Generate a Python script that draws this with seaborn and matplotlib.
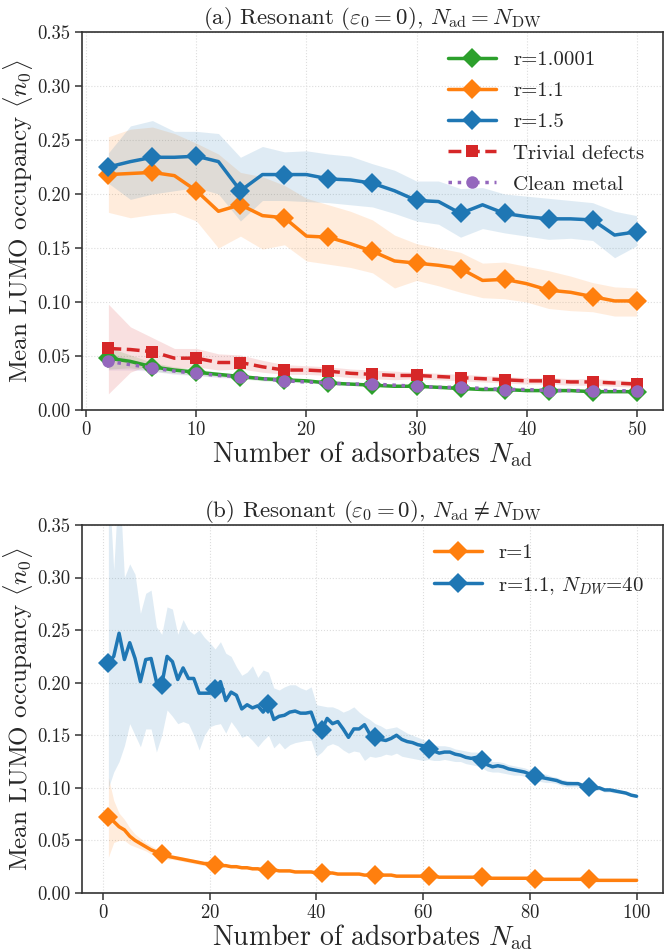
import pandas as pd
import seaborn as sns
import matplotlib.pyplot as plt

# ---- panel (a): N_ad = N_DW ----
n_top = list(range(2, 51, 2))

r15 = [0.225, 0.230, 0.234, 0.234, 0.235, 0.230, 0.203, 0.218, 0.218, 0.218, 0.214, 0.213, 0.210,
       0.203, 0.194, 0.193, 0.182, 0.190, 0.182, 0.179, 0.177, 0.177, 0.176, 0.162, 0.165]
r15_hi = [0.238, 0.263, 0.268, 0.258, 0.258, 0.256, 0.234, 0.244, 0.239, 0.240, 0.237, 0.235, 0.228,
          0.222, 0.212, 0.212, 0.205, 0.206, 0.200, 0.198, 0.196, 0.194, 0.192, 0.184, 0.180]
r15_lo = [0.210, 0.195, 0.200, 0.203, 0.206, 0.200, 0.175, 0.194, 0.194, 0.193, 0.192, 0.190, 0.188,
          0.182, 0.175, 0.172, 0.160, 0.168, 0.164, 0.161, 0.158, 0.159, 0.157, 0.141, 0.152]

r11 = [0.218, 0.219, 0.220, 0.217, 0.203, 0.184, 0.190, 0.180, 0.178, 0.161, 0.160, 0.154, 0.147,
       0.138, 0.136, 0.134, 0.131, 0.120, 0.121, 0.117, 0.111, 0.109, 0.105, 0.101, 0.101]
r11_hi = [0.253, 0.260, 0.262, 0.256, 0.247, 0.237, 0.220, 0.216, 0.208, 0.196, 0.190, 0.184, 0.176,
          0.162, 0.154, 0.150, 0.146, 0.136, 0.137, 0.133, 0.129, 0.124, 0.118, 0.114, 0.113]
r11_lo = [0.183, 0.178, 0.181, 0.183, 0.175, 0.150, 0.161, 0.149, 0.153, 0.138, 0.135, 0.132, 0.127,
          0.113, 0.120, 0.115, 0.109, 0.104, 0.103, 0.100, 0.094, 0.092, 0.091, 0.087, 0.087]

trivial = [0.057, 0.056, 0.054, 0.048, 0.048, 0.044, 0.044, 0.040, 0.037, 0.037, 0.036, 0.034, 0.033,
           0.032, 0.032, 0.031, 0.030, 0.029, 0.028, 0.027, 0.027, 0.026, 0.026, 0.025, 0.024]
trivial_hi = [0.098, 0.077, 0.067, 0.057, 0.057, 0.052, 0.051, 0.046, 0.042, 0.041, 0.040, 0.038, 0.037,
              0.036, 0.035, 0.034, 0.033, 0.032, 0.031, 0.030, 0.030, 0.029, 0.029, 0.028, 0.027]
trivial_lo = [0.015, 0.035, 0.043, 0.038, 0.040, 0.037, 0.038, 0.035, 0.033, 0.033, 0.032, 0.030, 0.029,
              0.028, 0.029, 0.028, 0.027, 0.026, 0.025, 0.024, 0.024, 0.023, 0.023, 0.022, 0.021]

r10001 = [0.048, 0.045, 0.040, 0.037, 0.035, 0.033, 0.031, 0.029, 0.028, 0.027, 0.025, 0.024, 0.023,
          0.022, 0.022, 0.021, 0.020, 0.019, 0.019, 0.018, 0.018, 0.018, 0.017, 0.017, 0.017]
r10001_sd = [0.010, 0.006, 0.004, 0.003, 0.003, 0.002, 0.002, 0.002, 0.002, 0.001, 0.001, 0.001, 0.001,
             0.001, 0.001, 0.001, 0.001, 0.001, 0.001, 0.001, 0.001, 0.001, 0.001, 0.001, 0.001]

clean = [0.045, 0.042, 0.039, 0.036, 0.034, 0.032, 0.031, 0.029, 0.027, 0.026, 0.025, 0.024, 0.024,
         0.023, 0.022, 0.021, 0.021, 0.020, 0.019, 0.019, 0.018, 0.018, 0.018, 0.018, 0.0175]
clean_sd = [0.008, 0.005, 0.003, 0.003, 0.002, 0.002, 0.002, 0.001, 0.001, 0.001, 0.001, 0.001, 0.001,
            0.001, 0.001, 0.001, 0.001, 0.001, 0.001, 0.001, 0.001, 0.001, 0.001, 0.001, 0.001]

# ---- panel (b): N_ad != N_DW ----
n_bot = list(range(1, 101))

r1 = [0.072, 0.068, 0.063, 0.060, 0.054, 0.050, 0.047, 0.044, 0.041, 0.039,
      0.037, 0.035, 0.034, 0.033, 0.032, 0.031, 0.030, 0.029, 0.028, 0.028,
      0.027, 0.026, 0.026, 0.025, 0.025, 0.024, 0.024, 0.023, 0.023, 0.022,
      0.022, 0.022, 0.021, 0.021, 0.021, 0.020, 0.020, 0.020, 0.020, 0.019,
      0.019, 0.019, 0.019, 0.018, 0.018, 0.018, 0.018, 0.018, 0.017, 0.017,
      0.017, 0.017, 0.017, 0.017, 0.016, 0.016, 0.016, 0.016, 0.016, 0.016,
      0.016, 0.016, 0.015, 0.015, 0.015, 0.015, 0.015, 0.015, 0.015, 0.015,
      0.015, 0.014, 0.014, 0.014, 0.014, 0.014, 0.014, 0.014, 0.014, 0.014,
      0.013, 0.013, 0.013, 0.013, 0.013, 0.013, 0.013, 0.013, 0.013, 0.013,
      0.013, 0.012, 0.012, 0.012, 0.012, 0.012, 0.012, 0.012, 0.012, 0.012]
r1_sd = [0.038, 0.020, 0.013, 0.010, 0.008, 0.006, 0.005, 0.004, 0.004, 0.003,
         0.003, 0.003, 0.002, 0.002, 0.002, 0.002, 0.002, 0.002, 0.002, 0.002,
         0.001, 0.001, 0.001, 0.001, 0.001, 0.001, 0.001, 0.001, 0.001, 0.001,
         0.001, 0.001, 0.001, 0.001, 0.001, 0.001, 0.001, 0.001, 0.001, 0.001,
         0.001, 0.001, 0.001, 0.001, 0.001, 0.001, 0.001, 0.001, 0.001, 0.001,
         0.001, 0.001, 0.001, 0.001, 0.001, 0.001, 0.001, 0.001, 0.001, 0.001,
         0.001, 0.001, 0.001, 0.001, 0.001, 0.001, 0.001, 0.001, 0.001, 0.001,
         0.001, 0.001, 0.001, 0.001, 0.001, 0.001, 0.001, 0.001, 0.001, 0.001,
         0.001, 0.001, 0.001, 0.001, 0.001, 0.001, 0.001, 0.001, 0.001, 0.001,
         0.001, 0.001, 0.001, 0.001, 0.001, 0.001, 0.001, 0.001, 0.001, 0.001]

r11_dw40 = [0.219, 0.225, 0.247, 0.222, 0.238, 0.223, 0.201, 0.222, 0.223, 0.201,
            0.198, 0.225, 0.220, 0.203, 0.214, 0.204, 0.204, 0.190, 0.190, 0.190,
            0.194, 0.201, 0.183, 0.191, 0.188, 0.175, 0.179, 0.176, 0.178, 0.172,
            0.180, 0.165, 0.168, 0.169, 0.172, 0.173, 0.171, 0.171, 0.172, 0.158,
            0.155, 0.166, 0.161, 0.163, 0.156, 0.148, 0.156, 0.156, 0.160, 0.151,
            0.148, 0.146, 0.145, 0.147, 0.150, 0.146, 0.144, 0.143, 0.141, 0.140,
            0.137, 0.135, 0.133, 0.134, 0.134, 0.132, 0.131, 0.129, 0.128, 0.129,
            0.126, 0.122, 0.120, 0.121, 0.120, 0.118, 0.117, 0.116, 0.115, 0.113,
            0.111, 0.110, 0.109, 0.108, 0.107, 0.105, 0.104, 0.104, 0.104, 0.102,
            0.101, 0.099, 0.100, 0.098, 0.098, 0.097, 0.096, 0.095, 0.093, 0.092]
r11_dw40_hi = [0.400, 0.307, 0.400, 0.300, 0.313, 0.303, 0.266, 0.285, 0.288, 0.253,
               0.246, 0.272, 0.270, 0.246, 0.260, 0.250, 0.246, 0.250, 0.243, 0.238,
               0.232, 0.239, 0.228, 0.225, 0.215, 0.207, 0.210, 0.216, 0.205, 0.212,
               0.210, 0.195, 0.193, 0.196, 0.198, 0.198, 0.195, 0.193, 0.196, 0.179,
               0.178, 0.177, 0.177, 0.175, 0.172, 0.174, 0.177, 0.172, 0.168, 0.165,
               0.161, 0.159, 0.156, 0.157, 0.158, 0.155, 0.152, 0.150, 0.148, 0.146,
               0.143, 0.141, 0.140, 0.140, 0.139, 0.137, 0.136, 0.135, 0.134, 0.134,
               0.133, 0.128, 0.125, 0.125, 0.124, 0.122, 0.121, 0.120, 0.119, 0.117,
               0.116, 0.114, 0.113, 0.111, 0.110, 0.108, 0.107, 0.106, 0.106, 0.104,
               0.103, 0.101, 0.101, 0.099, 0.099, 0.098, 0.097, 0.096, 0.094, 0.093]
r11_dw40_lo = [0.100, 0.115, 0.125, 0.140, 0.161, 0.150, 0.139, 0.156, 0.156, 0.134,
               0.150, 0.174, 0.168, 0.161, 0.163, 0.161, 0.150, 0.136, 0.150, 0.158,
               0.160, 0.161, 0.152, 0.163, 0.156, 0.148, 0.150, 0.145, 0.139, 0.145,
               0.150, 0.138, 0.143, 0.137, 0.141, 0.143, 0.144, 0.145, 0.145, 0.130,
               0.134, 0.140, 0.142, 0.140, 0.136, 0.133, 0.135, 0.134, 0.126, 0.130,
               0.129, 0.130, 0.132, 0.131, 0.133, 0.130, 0.129, 0.128, 0.127, 0.126,
               0.127, 0.126, 0.126, 0.127, 0.126, 0.125, 0.125, 0.123, 0.122, 0.121,
               0.119, 0.116, 0.115, 0.115, 0.114, 0.113, 0.112, 0.112, 0.111, 0.109,
               0.107, 0.106, 0.105, 0.105, 0.104, 0.102, 0.101, 0.101, 0.101, 0.100,
               0.099, 0.097, 0.098, 0.096, 0.096, 0.095, 0.095, 0.094, 0.092, 0.091]

C_BLUE, C_ORANGE, C_GREEN, C_RED, C_PURPLE = '#1f77b4', '#ff7f0e', '#2ca02c', '#d62728', '#9467bd'

sns.set_style('ticks')
plt.rcParams['font.family'] = 'serif'
plt.rcParams['font.serif'] = ['cmr10', 'DejaVu Serif']
plt.rcParams['mathtext.fontset'] = 'cm'
plt.rcParams['axes.formatter.use_mathtext'] = True
plt.rcParams['axes.unicode_minus'] = False

fig = plt.figure(figsize=(6.66, 9.52), dpi=100)
ax1 = fig.add_axes([0.1231, 0.5693, 0.8724, 0.3971])
ax2 = fig.add_axes([0.1231, 0.0620, 0.8724, 0.3866])

top = pd.DataFrame({'N': n_top, 'r10001': r10001, 'r11': r11, 'r15': r15,
                    'trivial': trivial, 'clean': clean})
bot = pd.DataFrame({'N': n_bot, 'r1': r1, 'r11': r11_dw40})

band_alpha = 0.14

# panel (a) shaded spread
ax1.fill_between(n_top, [a - b for a, b in zip(r10001, r10001_sd)],
                 [a + b for a, b in zip(r10001, r10001_sd)], color=C_GREEN, alpha=band_alpha, lw=0)
ax1.fill_between(n_top, r11_lo, r11_hi, color=C_ORANGE, alpha=band_alpha, lw=0)
ax1.fill_between(n_top, r15_lo, r15_hi, color=C_BLUE, alpha=band_alpha, lw=0)
ax1.fill_between(n_top, trivial_lo, trivial_hi, color=C_RED, alpha=band_alpha, lw=0)
ax1.fill_between(n_top, [a - b for a, b in zip(clean, clean_sd)],
                 [a + b for a, b in zip(clean, clean_sd)], color=C_PURPLE, alpha=band_alpha, lw=0)

line_kw = dict(lw=2.5, markeredgewidth=0, errorbar=None)
sns.lineplot(data=top, x='N', y='r10001', ax=ax1, color=C_GREEN, marker='D', markersize=10,
             markevery=2, label='r=1.0001', **line_kw)
sns.lineplot(data=top, x='N', y='r11', ax=ax1, color=C_ORANGE, marker='D', markersize=10,
             markevery=2, label='r=1.1', **line_kw)
sns.lineplot(data=top, x='N', y='r15', ax=ax1, color=C_BLUE, marker='D', markersize=10,
             markevery=2, label='r=1.5', **line_kw)
sns.lineplot(data=top, x='N', y='trivial', ax=ax1, color=C_RED, marker='s', markersize=9,
             markevery=2, linestyle='--', label='Trivial defects', **line_kw)
sns.lineplot(data=top, x='N', y='clean', ax=ax1, color=C_PURPLE, marker='o', markersize=9,
             markevery=2, linestyle=':', label='Clean metal', **line_kw)

# panel (b)
ax2.fill_between(n_bot, [a - b for a, b in zip(r1, r1_sd)], [a + b for a, b in zip(r1, r1_sd)],
                 color=C_ORANGE, alpha=band_alpha, lw=0)
ax2.fill_between(n_bot, r11_dw40_lo, r11_dw40_hi, color=C_BLUE, alpha=band_alpha, lw=0)
sns.lineplot(data=bot, x='N', y='r1', ax=ax2, color=C_ORANGE, marker='D', markersize=10,
             markevery=10, label='r=1', **line_kw)
sns.lineplot(data=bot, x='N', y='r11', ax=ax2, color=C_BLUE, marker='D', markersize=10,
             markevery=10, label=r'r=1.1, $N_{DW}$=40', **line_kw)

titles = [r'(a) Resonant ($\varepsilon_0 = 0$), $N_{\mathrm{ad}} = N_{\mathrm{DW}}$',
          r'(b) Resonant ($\varepsilon_0 = 0$), $N_{\mathrm{ad}} \neq N_{\mathrm{DW}}$']
for ax, title in zip([ax1, ax2], titles):
    ax.set_ylim(0, 0.35)
    ax.set_yticks([0, 0.05, 0.10, 0.15, 0.20, 0.25, 0.30, 0.35])
    ax.set_yticklabels(['0.00', '0.05', '0.10', '0.15', '0.20', '0.25', '0.30', '0.35'])
    ax.set_title(title, fontsize=16.5, pad=6)
    ax.set_xlabel(r'Number of adsorbates $N_{\mathrm{ad}}$', fontsize=20, labelpad=0)
    ax.set_ylabel(r'Mean LUMO occupancy $\langle n_0\rangle$', fontsize=18, labelpad=2)
    ax.grid(True, linestyle=':', color='#dddddd', lw=0.8)
    ax.set_axisbelow(True)
    ax.tick_params(axis='both', labelsize=13.5, direction='out', length=5, width=1.1,
                   color='#333333', pad=3)
    for sp in ax.spines.values():
        sp.set_color('#333333')
        sp.set_linewidth(1.2)
    ax.legend(loc='upper right', frameon=False, fontsize=15, labelspacing=0.6,
              handlelength=2.3, borderaxespad=0.5)

ax1.set_xticks([0, 10, 20, 30, 40, 50])
ax2.set_xticks([0, 20, 40, 60, 80, 100])

fig.savefig('out.png', dpi=100)
